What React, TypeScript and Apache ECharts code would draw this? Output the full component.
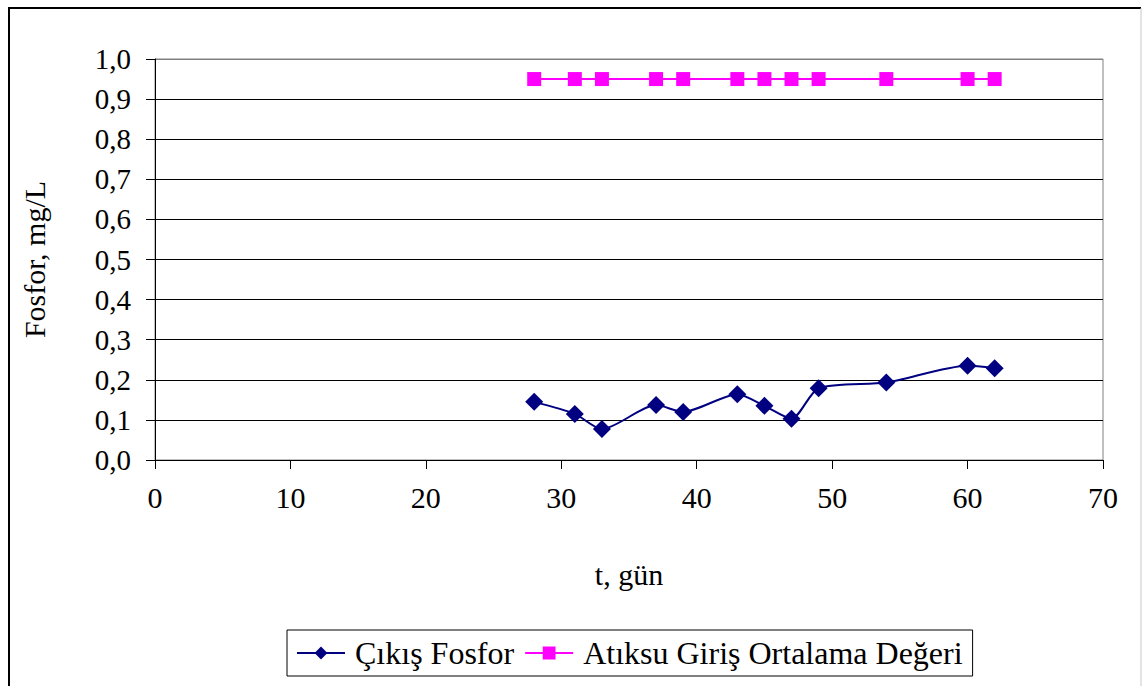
import React, { useEffect, useRef } from "react";
import * as echarts from "echarts";

const days = [28, 31, 33, 37, 39, 43, 45, 47, 49, 54, 60, 62];
const cikisFosfor = [0.145, 0.115, 0.077, 0.137, 0.12, 0.164, 0.135, 0.103, 0.179, 0.193, 0.235, 0.229];
const girisOrtalama = [0.95, 0.95, 0.95, 0.95, 0.95, 0.95, 0.95, 0.95, 0.95, 0.95, 0.95, 0.95];
const seriesNames = ["Çıkış Fosfor", "Atıksu Giriş Ortalama Değeri"];
const xTitle = "t, gün";
const yTitle = "Fosfor, mg/L";

const FONT = "Liberation Serif";

export default function App() {
  const ref = useRef<HTMLDivElement>(null);
  useEffect(() => {
    if (!ref.current) return;
    const chart = echarts.init(ref.current, null, { renderer: "svg" });
    const splitColors = ["#000", "#000", "#000", "#000", "#000", "#000", "#000", "#000", "#000", "#000", "#808080"];
    chart.setOption({
      animation: false,
      backgroundColor: "#fff",
      textStyle: { fontFamily: FONT, color: "#000" },
      grid: {
        left: 155,
        right: 39,
        top: 59,
        bottom: 226,
        show: true,
        borderColor: "#808080",
        borderWidth: 1,
        backgroundColor: "transparent",
      },
      xAxis: {
        type: "value",
        min: 0,
        max: 70,
        interval: 10,
        name: xTitle,
        nameLocation: "middle",
        nameGap: 99,
        nameTextStyle: { fontFamily: FONT, fontSize: 30, color: "#000" },
        axisLine: { show: true, lineStyle: { color: "#000", width: 1 } },
        axisTick: { show: true, inside: false, length: 9, lineStyle: { color: "#000" } },
        axisLabel: { fontFamily: FONT, fontSize: 30, color: "#000", margin: 22 },
        splitLine: { show: false },
      },
      yAxis: {
        type: "value",
        min: 0,
        max: 1,
        interval: 0.1,
        name: yTitle,
        nameLocation: "middle",
        nameGap: 106,
        nameRotate: 90,
        nameTextStyle: { fontFamily: FONT, fontSize: 30, color: "#000" },
        axisLine: { show: true, lineStyle: { color: "#000", width: 1 } },
        axisTick: { show: true, inside: false, length: 9, lineStyle: { color: "#000" } },
        axisLabel: {
          fontFamily: FONT,
          fontSize: 29,
          color: "#000",
          margin: 24,
          formatter: (v: number) => v.toFixed(1).replace(".", ","),
        },
        splitLine: { show: true, lineStyle: { color: splitColors, width: 1 } },
      },
      legend: {
        left: 287,
        top: 630,
        orient: "horizontal",
        borderColor: "#000",
        borderWidth: 1,
        padding: [7, 10, 7, 9],
        itemGap: 10,
        itemWidth: 48,
        itemHeight: 16,
        textStyle: { fontFamily: FONT, fontSize: 32, color: "#000", padding: [0, 0, 0, 5] },
        data: seriesNames,
      },
      graphic: [
        {
          type: "polyline",
          shape: { points: [[9, 700], [9, 8], [1141, 8]] },
          style: { stroke: "#000", lineWidth: 2, fill: "none" },
          silent: true,
        },
        {
          type: "line",
          shape: { x1: 1141, y1: 8, x2: 1141, y2: 700 },
          style: { stroke: "#c8c8c8", lineWidth: 1 },
          silent: true,
        },
      ],
      series: [
        {
          name: seriesNames[0],
          type: "line",
          data: days.map((d, i) => [d, cikisFosfor[i]]),
          smooth: 0.25,
          symbol: "diamond",
          symbolSize: 18,
          itemStyle: { color: "#000080" },
          lineStyle: { color: "#000080", width: 2 },
          z: 3,
        },
        {
          name: seriesNames[1],
          type: "line",
          data: days.map((d, i) => [d, girisOrtalama[i]]),
          symbol: "rect",
          symbolSize: 14,
          itemStyle: { color: "#ff00ff" },
          lineStyle: { color: "#ff00ff", width: 2 },
          z: 3,
        },
      ],
    });
    return () => chart.dispose();
  }, []);
  return (
    <div
      ref={ref}
      style={{ position: "absolute", left: 0, top: 0, width: 1142, height: 686, background: "#fff" }}
    />
  );
}
